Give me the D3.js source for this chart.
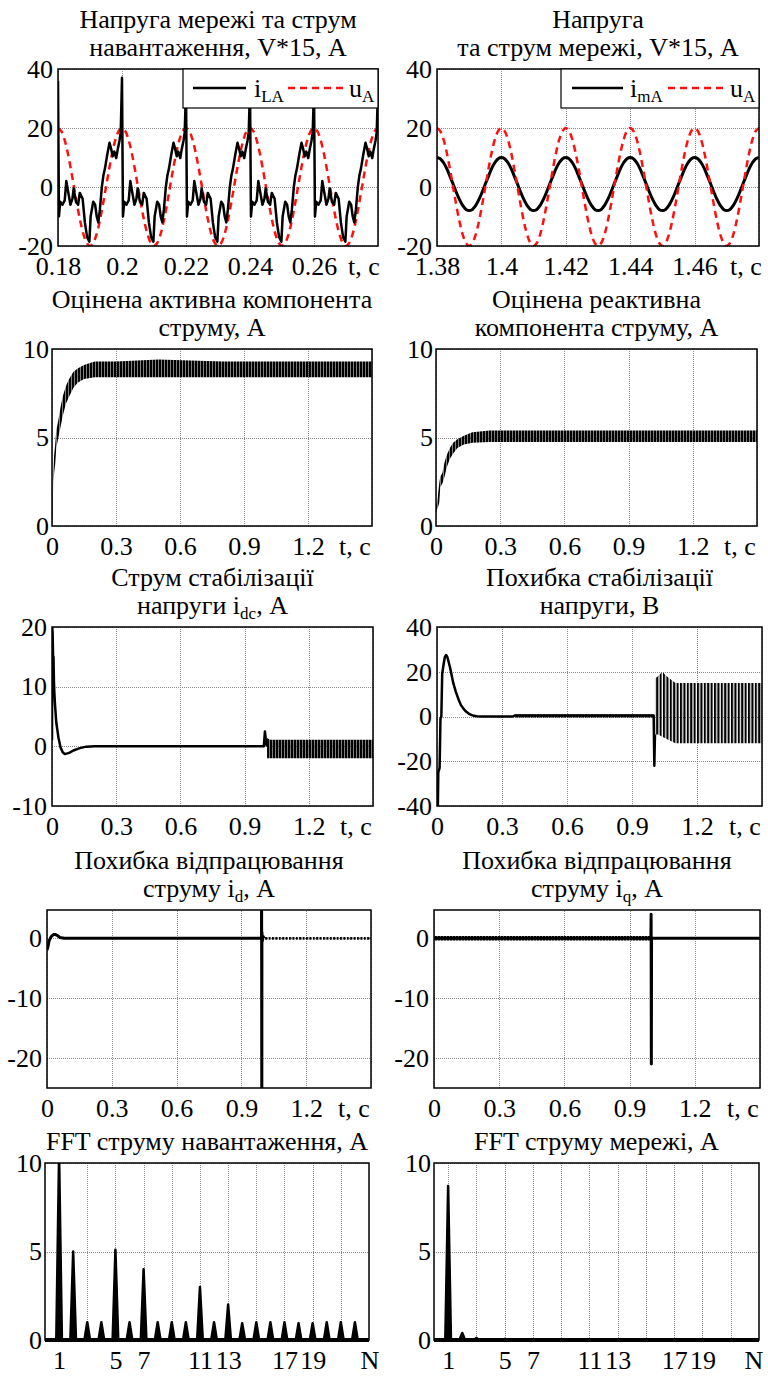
<!DOCTYPE html>
<html lang="uk">
<head>
<meta charset="utf-8">
<title>Струми та напруги</title>
<script src="https://cdn.jsdelivr.net/npm/d3@7"></script>
<style>
  body { margin: 0; background: #fff; }
  svg text { font-family: "Liberation Serif", "Times New Roman", serif; font-size: 26px; fill: #000; }
  .axis line { stroke: #8c8c8c; stroke-dasharray: 1 1; shape-rendering: crispEdges; }
  .axis text { font-family: "Liberation Serif", serif; font-size: 26px; }
  .frame { fill: none; stroke: #000; stroke-width: 1.5; }
</style>
</head>
<body>
<script>
// ---- data ----

// panel 1: one period of load current i_LA after each switching spike (s, A)
var iLA_tau = [0.0003, 0.0007, 0.0014, 0.0021, 0.0026, 0.0034, 0.0039, 0.0045, 0.0049, 0.0056, 0.0063, 0.0068,
               0.0077, 0.0084, 0.0091, 0.0098, 0.0102, 0.0110, 0.0116, 0.0121, 0.0126, 0.0131, 0.0137, 0.0142,
               0.0147, 0.0154, 0.0161, 0.0166, 0.0171, 0.0176, 0.0182, 0.0187, 0.0192, 0.0196];
var iLA_val = [-10, -5, -6, -4.5, 2, -3, -6, -4, -0.5, -5, -6, -2,
               -4, -12, -17, -18.5, -10, -5, -6, -10, -12, -7.5, 0, 4,
               6.4, 11, 15, 13, 10.4, 12, 9.8, 13, 15.6, 18.5];
var iLA_spike = [36, 37, 34, 34, 34, 34];        // at 0.18, 0.20 ... 0.28
// grid voltage u_A, one period sampled every 1 ms
var uA_cycle = [20, 19, 16.2, 11.8, 6.2, 0, -6.2, -11.8, -16.2, -19, -20, -19, -16.2, -11.8, -6.2, 0, 6.2, 11.8, 16.2, 19];
// grid current i_mA, one period sampled every 1 ms
var imA_cycle = [10, 9.6, 8.3, 6.3, 3.7, 1, -1.8, -4.3, -6.3, -7.6, -8, -7.6, -6.3, -4.3, -1.8, 1, 3.7, 6.3, 8.3, 9.6];

// panel 3: estimated active component, ripple envelope
var p3_t  = [0, 0.003, 0.006, 0.01, 0.015, 0.02, 0.03, 0.04, 0.05, 0.065, 0.08, 0.1, 0.12, 0.15, 0.2, 0.3, 0.5, 0.8, 1.0, 1.2, 1.5];
var p3_lo = [0, 0.8, 2.5, 3.0, 3.5, 4.4, 5.0, 5.6, 6.2, 6.9, 7.3, 7.8, 8.1, 8.3, 8.4, 8.4, 8.4, 8.4, 8.4, 8.4, 8.4];
var p3_hi = [0.6, 2.0, 3.2, 4.0, 4.6, 5.4, 6.0, 6.7, 7.3, 7.9, 8.3, 8.7, 8.9, 9.1, 9.3, 9.3, 9.4, 9.3, 9.3, 9.3, 9.3];

// panel 4: estimated reactive component, ripple envelope
var p4_t  = [0, 0.003, 0.008, 0.015, 0.02, 0.03, 0.04, 0.05, 0.065, 0.08, 0.1, 0.13, 0.17, 0.25, 0.5, 1.0, 1.5];
var p4_lo = [0.7, 0.9, 1.0, 1.3, 2.2, 2.4, 2.8, 3.3, 3.8, 4.1, 4.4, 4.6, 4.7, 4.75, 4.75, 4.75, 4.75];
var p4_hi = [1.2, 1.3, 1.6, 2.4, 2.8, 3.0, 3.6, 4.0, 4.4, 4.7, 4.9, 5.1, 5.3, 5.4, 5.4, 5.4, 5.4];

// panel 5: DC stabilisation current
var p5_t = [0, 0.001, 0.003, 0.005, 0.007, 0.009, 0.011, 0.014, 0.02, 0.03, 0.04, 0.05, 0.06, 0.08, 0.1, 0.13, 0.16, 0.2, 0.99, 0.992, 0.995, 0.998, 1.0, 1.005];
var p5_v = [1, 20, 19, 15, 15, 11, 9, 7, 4, 1.5, -0.2, -1, -1.3, -1.1, -0.7, -0.3, -0.05, 0, 0, 1, 2.5, 1.5, 0.5, 0];
var p5b_t  = [1.005, 1.02, 1.5];
var p5b_lo = [-2.0, -2.0, -2.0];
var p5b_hi = [1.4, 1.1, 1.1];

// panel 6: voltage stabilisation error
var p6_t = [0, 0.004, 0.006, 0.012, 0.016, 0.02, 0.024, 0.03, 0.036, 0.042, 0.048, 0.06, 0.075, 0.087, 0.1, 0.11,
            0.122, 0.134, 0.146, 0.158, 0.17, 0.185, 0.2, 0.35, 0.36, 1.0, 1.003, 1.006];
var p6_v = [-42, -40, -25, -23, -1, 0, 19, 23, 26.5, 27.5, 26.5, 22, 15, 11, 7.5, 5.2,
            3.5, 2.2, 1.3, 0.7, 0.3, 0.1, 0, 0, 0.5, 0.5, -22, -8];
var p6a_t  = [0.36, 1.0];
var p6a_lo = [-0.5, -0.5];
var p6a_hi = [0.9, 0.9];
var p6b_t  = [1.006, 1.02, 1.04, 1.06, 1.1, 1.5];
var p6b_lo = [-8, -8, -9, -10, -12, -12];
var p6b_hi = [17, 18, 20, 18, 15, 15];

// panel 7: i_d tracking error
var p7_t = [0, 0.004, 0.01, 0.02, 0.03, 0.04, 0.05, 0.06, 0.08, 0.993, 0.9935, 0.9945, 0.995, 0.997, 1.0, 1.005];
var p7_v = [-2, -1.5, -0.4, 0.3, 0.6, 0.6, 0.4, 0.1, 0, 0, 8, -28, 1, -0.5, 0.3, 0];
var p7b_t  = [1.005, 1.5];
var p7b_lo = [-0.25, -0.25];
var p7b_hi = [0.2, 0.2];

// panel 8: i_q tracking error
var p8_t = [0, 0.998, 0.999, 1.0, 1.001, 1.002, 1.5];
var p8_v = [0, 0, 4, -21, 0, 0, 0];
var p8b_t  = [0, 1.0];
var p8b_lo = [-0.4, -0.4];
var p8b_hi = [0.35, 0.35];

// panels 9-10: FFT amplitudes per harmonic
var harmonics = d3.range(1, 23);
var fftLoad = [10.5, 5.0, 1.0, 1.0, 5.1, 1.0, 4.0, 1.0, 1.0, 1.0, 3.0, 1.0, 2.0, 0.95, 1.0, 1.0, 1.0, 0.95, 0.95, 1.0, 1.0, 1.0];
var fftGrid = [8.7, 0.4, 0.12, 0, 0.06, 0, 0, 0, 0, 0, 0, 0, 0, 0, 0, 0, 0, 0, 0, 0, 0, 0];
var fftGridLines = [1, 3, 5, 7, 9, 11, 13, 15, 17, 19, 21];
var fftLabels = [1, 5, 7, 11, 13, 17, 19];

var timeTicks = [0, 0.3, 0.6, 0.9, 1.2, 1.5];

// ---- drawing ----
var FONT = "'Liberation Serif', 'Times New Roman', serif";
var svg = d3.select("body").append("svg").attr("width", 768).attr("height", 1376)
  .attr("font-family", FONT);
var defs = svg.append("defs");

function stripes(id, period, bar) {
  defs.append("pattern").attr("id", id).attr("patternUnits", "userSpaceOnUse")
    .attr("width", period).attr("height", 8)
    .append("rect").attr("width", bar).attr("height", 8).attr("fill", "#000");
}
stripes("ripA", 3, 2.5);
stripes("ripB", 3.4, 2.1);

function rich(sel, str) {
  var shift = 0;
  str.split(/(_\{[^}]*\})/).forEach(function(part) {
    if (!part) return;
    if (part[0] === "_") {
      sel.append("tspan").attr("font-size", 17).attr("dy", 5).text(part.slice(2, -1));
      shift = -5;
    } else {
      sel.append("tspan").attr("dy", shift).text(part);
      shift = 0;
    }
  });
}

var num = function(v) { return String(+v.toFixed(2)); };

function tidy(s) {
  s.select(".domain").remove();
  s.attr("font-family", FONT).attr("font-size", 26);
}

var panelCount = 0;
function panel(o) {
  var id = "clip" + (panelCount++);
  var w = o.right - o.left, h = o.bottom - o.top;
  var x = d3.scaleLinear().domain(o.xd).range([o.left, o.right]);
  var y = d3.scaleLinear().domain(o.yd).range([o.bottom, o.top]);
  var g = svg.append("g");

  defs.append("clipPath").attr("id", id).append("rect")
    .attr("x", o.left).attr("y", o.top).attr("width", w).attr("height", h);

  var xlab = o.xlab || function(v) { return v === o.xd[1] ? "" : num(v); };
  g.append("g").attr("class", "axis").attr("transform", "translate(0," + o.bottom + ")")
    .call(d3.axisBottom(x).tickValues(o.xt).tickSize(-h).tickPadding(11).tickFormat(xlab))
    .call(tidy);
  g.append("g").attr("class", "axis").attr("transform", "translate(" + o.left + ",0)")
    .call(d3.axisLeft(y).tickValues(o.yt).tickSize(-w).tickPadding(o.yp || 5).tickFormat(num))
    .call(tidy);

  g.append("text").attr("x", o.unitX !== undefined ? o.unitX : o.right - 17)
    .attr("y", o.bottom + 11).attr("dy", "0.71em").attr("text-anchor", "middle").text(o.unit);

  var cx = (o.left + o.right) / 2;
  o.title.forEach(function(line, i) {
    var t = g.append("text").attr("x", cx).attr("text-anchor", "middle")
      .attr("y", o.top - 13 - 28 * (o.title.length - 1 - i));
    rich(t, line);
  });

  var plot = g.append("g").attr("clip-path", "url(#" + id + ")");
  var line = d3.line().x(function(d) { return x(d[0]); }).y(function(d) { return y(d[1]); });
  var area = d3.area().x(function(d) { return x(d[0]); })
    .y0(function(d) { return y(d[1]); }).y1(function(d) { return y(d[2]); });

  (o.bands || []).forEach(function(b) {
    plot.append("path").attr("d", area(b.data)).attr("fill", "url(#" + b.pat + ")");
  });
  (o.lines || []).forEach(function(l) {
    var ln = l.curve ? line.curve(l.curve) : line.curve(d3.curveLinear);
    plot.append("path").attr("d", ln(l.data)).attr("fill", "none")
      .attr("stroke", l.color || "#000").attr("stroke-width", l.width || 2.5)
      .attr("stroke-dasharray", l.dash || null).attr("stroke-linejoin", "round");
  });
  if (o.spikes) {
    o.spikes.forEach(function(s) {
      plot.append("path")
        .attr("d", line.curve(d3.curveLinear)([[s[0] - 0.2, 0], [s[0], s[1]], [s[0] + 0.2, 0]]))
        .attr("fill", "#000").attr("stroke", "#000").attr("stroke-width", 2.5).attr("stroke-linejoin", "round");
    });
    g.append("line").attr("x1", o.left).attr("x2", o.right).attr("y1", y(0)).attr("y2", y(0))
      .attr("stroke", "#000").attr("stroke-width", 4);
  }

  g.append("rect").attr("class", "frame").attr("x", o.left).attr("y", o.top).attr("width", w).attr("height", h);

  if (o.legend) {
    var L = o.legend, lg = g.append("g");
    lg.append("rect").attr("x", L.x).attr("y", o.top).attr("width", o.right - L.x).attr("height", 39)
      .attr("fill", "#fff").attr("stroke", "#000").attr("stroke-width", 1.2);
    L.items.forEach(function(it) {
      lg.append("line").attr("x1", it.x1).attr("x2", it.x2).attr("y1", o.top + 19).attr("y2", o.top + 19)
        .attr("stroke", it.color).attr("stroke-width", 2.5).attr("stroke-dasharray", it.dash || null);
      rich(lg.append("text").attr("x", it.tx).attr("y", o.top + 28), it.label);
    });
  }
}

// build periodic waveforms of panels 1 and 2
var iLA = [];
iLA_spike.forEach(function(s, k) {
  var t0 = 0.18 + 0.02 * k;
  iLA.push([t0, s]);
  if (k < iLA_spike.length - 1) iLA_tau.forEach(function(tau, j) { iLA.push([t0 + tau, iLA_val[j]]); });
});
var uA1 = d3.range(101).map(function(i) { return [0.18 + i * 0.001, uA_cycle[i % 20]]; });
var uA2 = d3.range(101).map(function(i) { return [1.38 + i * 0.001, uA_cycle[i % 20]]; });
var imA = d3.range(101).map(function(i) { return [1.38 + i * 0.001, imA_cycle[i % 20]]; });

var red = "#ff1010";

panel({ left: 58, right: 378, top: 69, bottom: 246, xd: [0.18, 0.28], yd: [-20, 40],
  xt: [0.18, 0.2, 0.22, 0.24, 0.26, 0.28], yt: [-20, 0, 20, 40], unit: "t, c", unitX: 364,
  title: ["Напруга мережі та струм", "навантаження, V*15, А"],
  lines: [{ data: uA1, color: red, dash: "7 5", curve: d3.curveCatmullRom },
          { data: iLA, width: 2.5 }],
  legend: { x: 183, items: [{ x1: 193, x2: 246, color: "#000", tx: 254, label: "i_{LA}" },
                            { x1: 288, x2: 345, color: red, dash: "7 5", tx: 349, label: "u_{A}" }] } });

panel({ left: 437, right: 759, top: 69, bottom: 246, xd: [1.38, 1.48], yd: [-20, 40],
  xt: [1.38, 1.4, 1.42, 1.44, 1.46, 1.48], yt: [-20, 0, 20, 40], unit: "t, c", unitX: 746,
  title: ["Напруга", "та струм мережі, V*15, А"],
  lines: [{ data: imA, width: 3, curve: d3.curveCatmullRom },
          { data: uA2, color: red, dash: "7 5", curve: d3.curveCatmullRom }],
  legend: { x: 561, items: [{ x1: 572, x2: 623, color: "#000", tx: 630, label: "i_{mA}" },
                            { x1: 668, x2: 727, color: red, dash: "7 5", tx: 730, label: "u_{A}" }] } });

panel({ left: 52, right: 372, top: 349, bottom: 526, xd: [0, 1.5], yd: [0, 10],
  xt: timeTicks, yt: [0, 5, 10], yp: 3, unit: "t, c",
  title: ["Оцінена активна компонента", "струму, А"],
  bands: [{ data: d3.zip(p3_t, p3_lo, p3_hi), pat: "ripA" }] });

panel({ left: 436, right: 757, top: 349, bottom: 526, xd: [0, 1.5], yd: [0, 10],
  xt: timeTicks, yt: [0, 5, 10], yp: 3, unit: "t, c",
  title: ["Оцінена реактивна", "компонента струму, А"],
  bands: [{ data: d3.zip(p4_t, p4_lo, p4_hi), pat: "ripA" }] });

panel({ left: 52, right: 373, top: 627, bottom: 806, xd: [0, 1.5], yd: [-10, 20],
  xt: timeTicks, yt: [-10, 0, 10, 20], unit: "t, c",
  title: ["Струм стабілізації", "напруги i_{dc}, А"],
  bands: [{ data: d3.zip(p5b_t, p5b_lo, p5b_hi), pat: "ripA" }],
  lines: [{ data: d3.zip(p5_t, p5_v) }] });

panel({ left: 437, right: 762, top: 627, bottom: 806, xd: [0, 1.5], yd: [-40, 40],
  xt: timeTicks, yt: [-40, -20, 0, 20, 40], unit: "t, c",
  title: ["Похибка стабілізації", "напруги, В"],
  bands: [{ data: d3.zip(p6a_t, p6a_lo, p6a_hi), pat: "ripA" },
          { data: d3.zip(p6b_t, p6b_lo, p6b_hi), pat: "ripB" }],
  lines: [{ data: d3.zip(p6_t, p6_v) }] });

panel({ left: 47, right: 371, top: 910, bottom: 1088, xd: [0, 1.5], yd: [-25, 4.7],
  xt: timeTicks, yt: [-20, -10, 0], unit: "t, c",
  title: ["Похибка відпрацювання", "струму i_{d}, А"],
  bands: [{ data: d3.zip(p7b_t, p7b_lo, p7b_hi), pat: "ripB" }],
  lines: [{ data: d3.zip(p7_t, p7_v), width: 3 }] });

panel({ left: 434, right: 760, top: 910, bottom: 1088, xd: [0, 1.5], yd: [-25, 4.7],
  xt: timeTicks, yt: [-20, -10, 0], unit: "t, c",
  title: ["Похибка відпрацювання", "струму i_{q}, А"],
  bands: [{ data: d3.zip(p8b_t, p8b_lo, p8b_hi), pat: "ripA" }],
  lines: [{ data: d3.zip(p8_t, p8_v), width: 3 }] });

var fftLab = function(v) { return fftLabels.indexOf(v) >= 0 ? String(v) : ""; };

panel({ left: 45, right: 369, top: 1163, bottom: 1340, xd: [0, 23], yd: [0, 10],
  xt: fftGridLines, xlab: fftLab, yt: [0, 5, 10], yp: 3, unit: "N", unitX: 370,
  title: ["FFT струму навантаження, А"],
  spikes: d3.zip(harmonics, fftLoad) });

panel({ left: 434, right: 759, top: 1163, bottom: 1340, xd: [0, 23], yd: [0, 10],
  xt: fftGridLines, xlab: fftLab, yt: [0, 5, 10], yp: 3, unit: "N", unitX: 754,
  title: ["FFT струму мережі, А"],
  spikes: d3.zip(harmonics, fftGrid) });
</script>
</body>
</html>
